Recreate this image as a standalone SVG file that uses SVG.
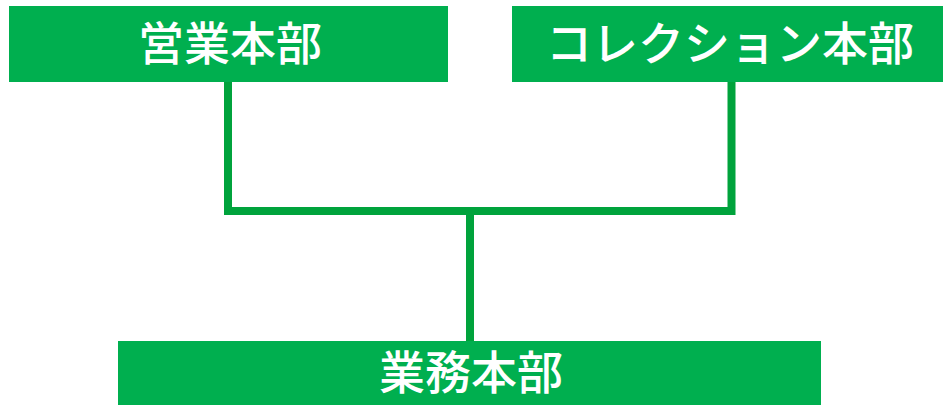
<svg xmlns="http://www.w3.org/2000/svg" width="943" height="405" viewBox="0 0 943 405">
<style>
.box{fill:#00AF4F}
.lbl{fill:#fff;font-family:"Noto Sans CJK JP","Noto Sans CJK SC",sans-serif;font-weight:500;font-size:46px;text-anchor:middle;dominant-baseline:central}
.con{fill:none;stroke:#00A33C;stroke-width:8;stroke-linecap:butt;stroke-linejoin:miter}
</style>
<rect width="943" height="405" fill="#fff"/>
<g id="connectors">
<polyline class="con" points="228,82 228,211 731.5,211 731.5,82"/>
<line class="con" x1="470" y1="211" x2="470" y2="341"/>
</g>
<g id="eigyo">
<rect class="box" x="9" y="6" width="439" height="76"/>
<text class="lbl" x="230" y="40">営業本部</text>
</g>
<g id="collection">
<rect class="box" x="512" y="6" width="431" height="76"/>
<text class="lbl" x="730" y="40">コレクション本部</text>
</g>
<g id="gyomu">
<rect class="box" x="118" y="341" width="703" height="64"/>
<text class="lbl" x="471" y="369" font-size="49">業務本部</text>
</g>
</svg>
